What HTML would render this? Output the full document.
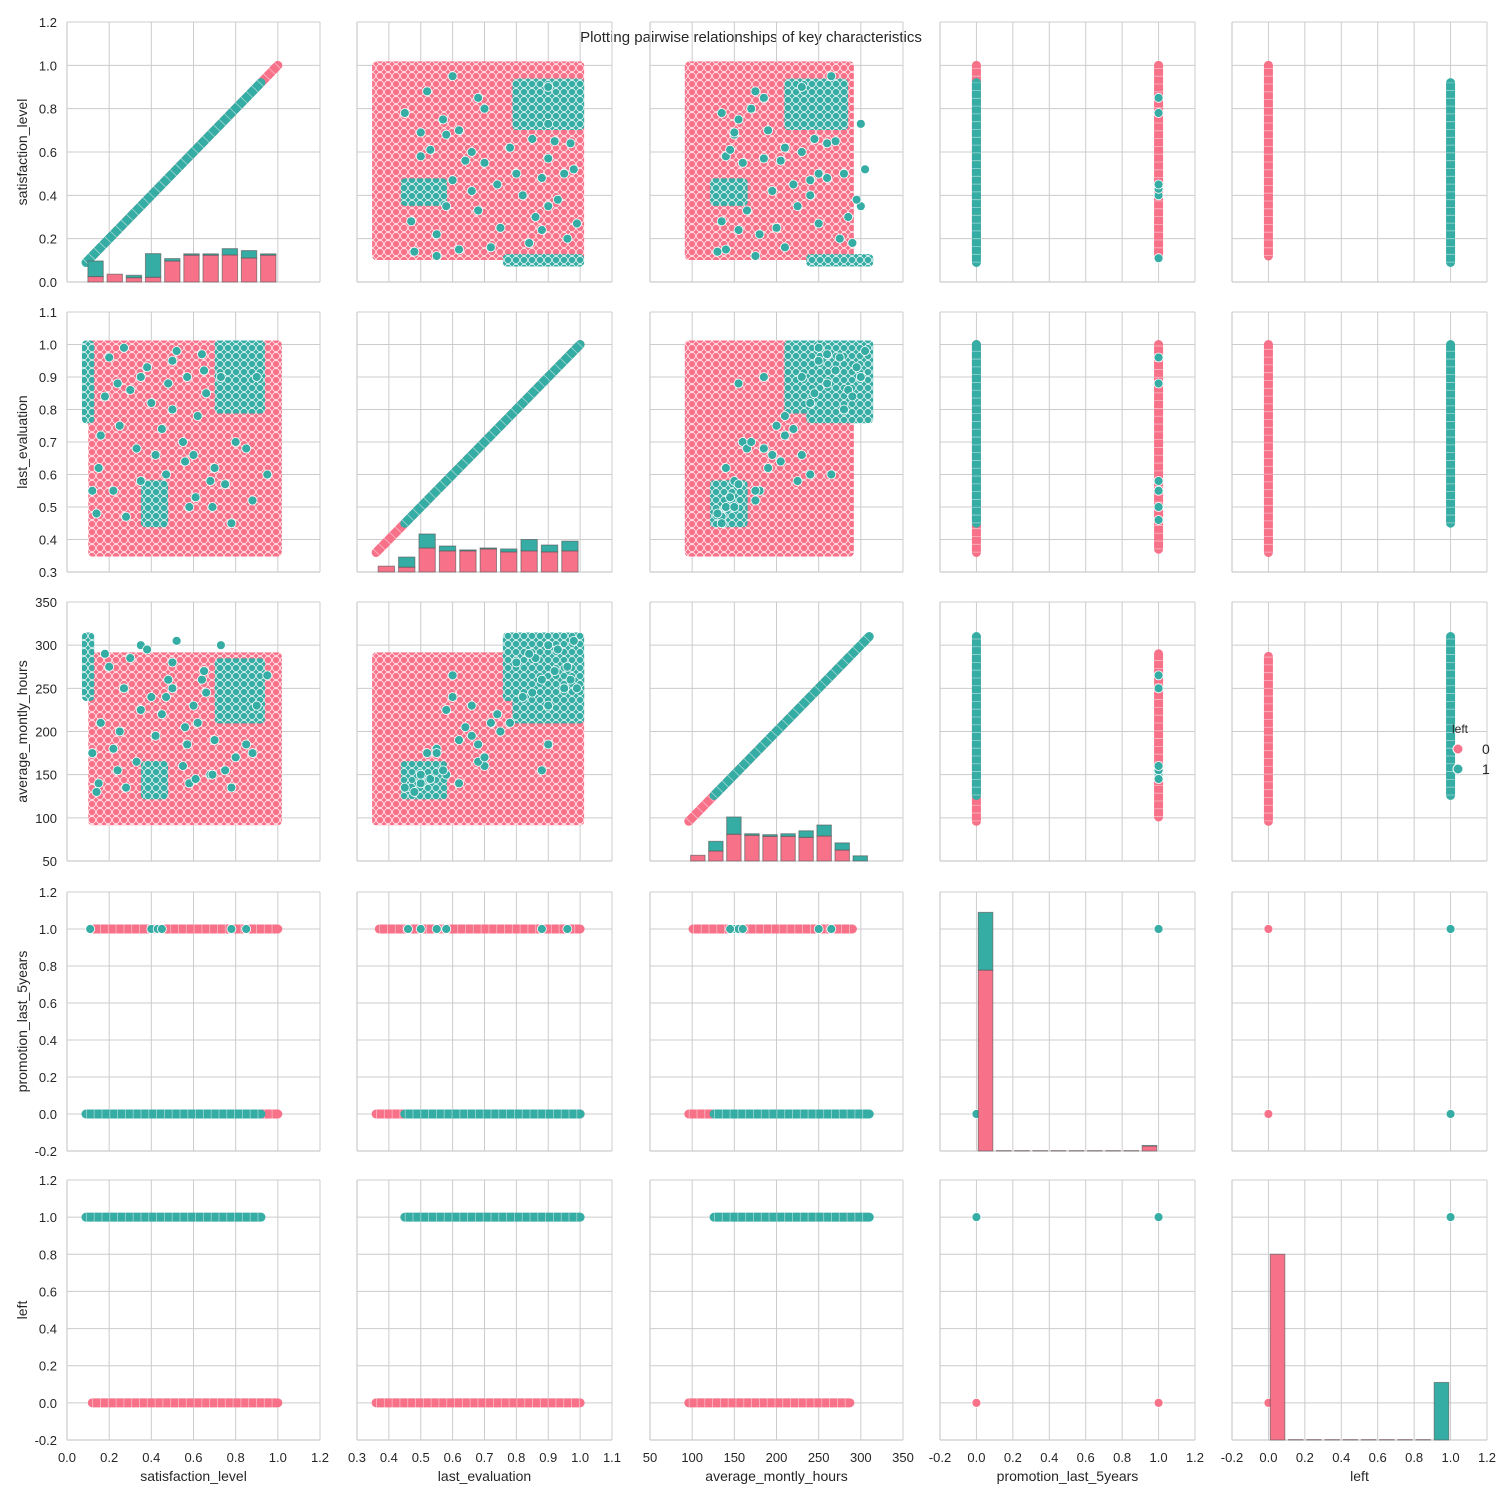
<!DOCTYPE html>
<html><head><meta charset="utf-8"><style>
body{margin:0;background:#fff}
svg text{font-family:"Liberation Sans",Arial,sans-serif;fill:#262626}
</style></head><body>
<svg id="chart" xmlns="http://www.w3.org/2000/svg" width="1502" height="1500" viewBox="0 0 1502 1500">
<defs>
<pattern id="pk" width="8" height="8" patternUnits="userSpaceOnUse"><rect width="8" height="8" fill="#f77189"/><circle cx="4" cy="4" r="3.6" fill="#f77189" stroke="#fff" stroke-width="0.7"/></pattern>
<pattern id="tl" width="8" height="8" patternUnits="userSpaceOnUse"><rect width="8" height="8" fill="#36ada4"/><circle cx="4" cy="4" r="3.6" fill="#36ada4" stroke="#fff" stroke-width="0.7"/></pattern>
</defs>
<text x="751" y="42" text-anchor="middle" font-size="15">Plotting pairwise relationships of key characteristics</text>
<g id="legend">
<text x="1452" y="733" font-size="12">left</text>
<circle cx="1458" cy="749" r="5" fill="#f77189" stroke="#fff"/>
<text x="1482" y="754" font-size="14">0</text>
<circle cx="1458" cy="769" r="5" fill="#36ada4" stroke="#fff"/>
<text x="1482" y="774" font-size="14">1</text>
</g>
</svg>
<script>
// ---- data ----
const varNames = ['satisfaction_level','last_evaluation','average_montly_hours','promotion_last_5years','left'];
const axisMin = [0, 0.3, 50, -0.2, -0.2];
const axisMax = [1.2, 1.1, 350, 1.2, 1.2];
const tickStep = [0.2, 0.1, 50, 0.2, 0.2];
const tickDec = [1, 1, 0, 1, 1];
const binMin = [0.09, 0.36, 96, 0, 0];
const binMax = [1.0, 1.0, 310, 1, 1];
const histPink0 = [0.025,0.036,0.020,0.022,0.097,0.124,0.124,0.125,0.111,0.124];
const histTotal0 = [0.097,0.036,0.031,0.131,0.108,0.130,0.130,0.154,0.145,0.130];
const histPink1 = [0.318,0.315,0.374,0.365,0.365,0.371,0.362,0.365,0.362,0.365];
const histTotal1 = [0.318,0.346,0.417,0.380,0.368,0.374,0.371,0.400,0.383,0.395];
const histPink2 = [56.6,61.6,81,79.8,78.6,78.6,77.4,79,62.7,50];
const histTotal2 = [56.6,72.8,101,81.6,80.5,81.6,85,91.7,71,56];
const histPink3 = [0.778,-0.198,-0.198,-0.198,-0.198,-0.198,-0.198,-0.198,-0.198,-0.173];
const histTotal3 = [1.09,-0.198,-0.198,-0.198,-0.198,-0.198,-0.198,-0.198,-0.198,-0.170];
const histPink4 = [0.80,-0.198,-0.198,-0.198,-0.198,-0.198,-0.198,-0.198,-0.198,-0.2];
const histTotal4 = [0.80,-0.198,-0.198,-0.198,-0.198,-0.198,-0.198,-0.198,-0.198,0.11];
const stayerLo = [0.12, 0.36, 96];
const stayerHi = [1.0, 1.0, 287];
const leaverLo = [0.09, 0.45, 126];
const leaverHi = [0.92, 1.0, 310];
const promoStayerLo = [0.12, 0.37, 101];
const promoStayerHi = [1.0, 1.0, 290];
const clusterA = [0.09,0.11,0.77,1.0,240,310];
const clusterB = [0.37,0.46,0.45,0.57,126,161];
const clusterC = [0.72,0.92,0.80,1.0,214,280];
const leaverSat =   [0.15,0.22,0.3,0.35,0.5,0.55,0.6,0.65,0.68,0.25,0.33,0.48,0.58,0.7,0.2,0.4,0.62,0.52,0.28,0.45,0.75,0.85,0.12,0.95,0.38,0.66,0.8,0.18,0.9,0.56,0.14,0.27,0.42,0.61,0.73,0.88,0.5,0.35,0.64,0.24,0.78,0.47,0.16,0.57,0.69];
const leaverEval =  [0.62,0.55,0.86,0.9,0.95,0.7,0.66,0.92,0.58,0.75,0.68,0.88,0.5,0.62,0.96,0.82,0.78,0.98,0.47,0.74,0.57,0.68,0.55,0.6,0.93,0.85,0.7,0.84,0.9,0.64,0.48,0.99,0.66,0.53,0.9,0.52,0.8,0.58,0.97,0.88,0.45,0.6,0.72,0.9,0.5];
const leaverHours = [140,180,285,300,250,160,230,270,150,200,165,260,140,190,275,240,210,305,135,220,155,185,175,265,295,245,170,290,230,205,130,250,195,145,300,175,280,225,260,155,135,240,210,185,150];
const promoLeaverSat = [0.11,0.40,0.43,0.45,0.78,0.85];
const promoLeaverEval = [0.96,0.50,0.55,0.46,0.88,0.58];
const promoLeaverHours = [265,150,155,145,250,160];

const histPink = [histPink0,histPink1,histPink2,histPink3,histPink4];
const histTotal = [histTotal0,histTotal1,histTotal2,histTotal3,histTotal4];
// ---- layout ----
const colX = [[67,320],[357,612],[650,903],[940,1195],[1232,1487]];
const rowY = [[22,282],[312,572],[602,861],[892,1151],[1180,1440]];
const PINK='#f77189', TEAL='#36ada4';
const svg = document.getElementById('chart');
const NS='http://www.w3.org/2000/svg';
function mk(tag, attrs, parent){const e=document.createElementNS(NS,tag);for(const k in attrs)e.setAttribute(k,attrs[k]);(parent||svg).appendChild(e);return e;}
function xs(c,v){return colX[c][0]+(v-axisMin[c])/(axisMax[c]-axisMin[c])*(colX[c][1]-colX[c][0]);}
function ys(r,v){return rowY[r][1]-(v-axisMin[r])/(axisMax[r]-axisMin[r])*(rowY[r][1]-rowY[r][0]);}
function ticks(i){const a=[];const n=Math.round((axisMax[i]-axisMin[i])/tickStep[i]);for(let k=0;k<=n;k++)a.push(axisMin[i]+k*tickStep[i]);return a;}

function rectV(g,r,c,x0,x1,y0,y1,fill,name){
  const X0=xs(c,x0)-4,X1=xs(c,x1)+4,Y0=ys(r,y1)-4,Y1=ys(r,y0)+4;
  const e=mk('rect',{x:X0,y:Y0,width:X1-X0,height:Y1-Y0,rx:4,fill:fill},g);
  
  
}
function pt(g,X,Y,col,name){
  const e=mk('circle',{cx:X,cy:Y,r:4.5,fill:col,stroke:'#fff','stroke-width':0.8},g);
  
  
}
function seg(g,X0,Y0,X1,Y1,col,name){
  const e=mk('line',{x1:X0,y1:Y0,x2:X1,y2:Y1,stroke:col,'stroke-width':9,'stroke-linecap':'round'},g);
  
  
  mk('line',{x1:X0,y1:Y0,x2:X1,y2:Y1,stroke:'#fff','stroke-width':9,'stroke-dasharray':'0.8 7','stroke-opacity':0.5},g);
}
function leaverVal(v,i){return [leaverSat,leaverEval,leaverHours][v][i];}
function promoVal(v,i){return [promoLeaverSat,promoLeaverEval,promoLeaverHours][v][i];}
const clusters=[clusterA,clusterB,clusterC];

for(let r=0;r<5;r++){for(let c=0;c<5;c++){
  const g=mk('g',{});
  
  
  ticks(c).forEach(t=>{mk('line',{x1:xs(c,t),x2:xs(c,t),y1:rowY[r][0],y2:rowY[r][1],stroke:'#cccccc','stroke-width':1},g);});
  ticks(r).forEach(t=>{mk('line',{x1:colX[c][0],x2:colX[c][1],y1:ys(r,t),y2:ys(r,t),stroke:'#cccccc','stroke-width':1},g);});
  mk('line',{x1:colX[c][0],x2:colX[c][0],y1:rowY[r][0],y2:rowY[r][1],stroke:'#cccccc','stroke-width':1.2},g);
  mk('line',{x1:colX[c][0],x2:colX[c][1],y1:rowY[r][1],y2:rowY[r][1],stroke:'#cccccc','stroke-width':1.2},g);
  const cont = r<3 && c<3;
  if(r===c){
    if(r<3){
      seg(g,xs(c,stayerLo[c]),ys(r,stayerLo[r]),xs(c,stayerHi[c]),ys(r,stayerHi[r]),PINK,'diag-stayers');
      seg(g,xs(c,leaverLo[c]),ys(r,leaverLo[r]),xs(c,leaverHi[c]),ys(r,leaverHi[r]),TEAL,'diag-leavers');
    } else if(r===3){ pt(g,xs(c,0),ys(r,0),TEAL,'diag-point'); pt(g,xs(c,1),ys(r,1),TEAL,'diag-point'); }
    else { pt(g,xs(c,0),ys(r,0),PINK,'diag-point'); pt(g,xs(c,1),ys(r,1),TEAL,'diag-point'); }
    const bw=(binMax[c]-binMin[c])/10;
    for(let i=0;i<10;i++){
      const a=binMin[c]+i*bw+bw*0.1, b=a+bw*0.8;
      const base=ys(r,axisMin[r]);
      const yp=ys(r,histPink[r][i]), yt=ys(r,histTotal[r][i]);
      const p=mk('rect',{x:xs(c,a),y:yp,width:xs(c,b)-xs(c,a),height:Math.max(0,base-yp),fill:PINK,stroke:'#555','stroke-opacity':0.6,'stroke-width':1},g);
      
      
      if(yt<yp-0.5){
        const t=mk('rect',{x:xs(c,a),y:yt,width:xs(c,b)-xs(c,a),height:yp-yt,fill:TEAL,stroke:'#555','stroke-opacity':0.6,'stroke-width':1},g);
        
        
      }
    }
  } else if(cont){
    rectV(g,r,c,stayerLo[c],stayerHi[c],stayerLo[r],stayerHi[r],'url(#pk)','stayer-cloud');
    clusters.forEach(k=>{rectV(g,r,c,k[2*c],k[2*c+1],k[2*r],k[2*r+1],'url(#tl)','leaver-cluster');});
    for(let i=0;i<leaverSat.length;i++) pt(g,xs(c,leaverVal(c,i)),ys(r,leaverVal(r,i)),TEAL,'leaver-point');
  } else if(c>=3 && r<3){
    if(c===4){
      seg(g,xs(c,0),ys(r,stayerLo[r]),xs(c,0),ys(r,stayerHi[r]),PINK,'strip-left-0');
      seg(g,xs(c,1),ys(r,leaverLo[r]),xs(c,1),ys(r,leaverHi[r]),TEAL,'strip-left-1');
    } else {
      seg(g,xs(c,0),ys(r,stayerLo[r]),xs(c,0),ys(r,stayerHi[r]),PINK,'strip-promo-0-stayers');
      seg(g,xs(c,0),ys(r,leaverLo[r]),xs(c,0),ys(r,leaverHi[r]),TEAL,'strip-promo-0-leavers');
      seg(g,xs(c,1),ys(r,promoStayerLo[r]),xs(c,1),ys(r,promoStayerHi[r]),PINK,'strip-promo-1-stayers');
      for(let i=0;i<promoLeaverSat.length;i++) pt(g,xs(c,1),ys(r,promoVal(r,i)),TEAL,'promo-leaver-point');
    }
  } else if(r>=3 && c<3){
    if(r===4){
      seg(g,xs(c,stayerLo[c]),ys(r,0),xs(c,stayerHi[c]),ys(r,0),PINK,'strip-left-0');
      seg(g,xs(c,leaverLo[c]),ys(r,1),xs(c,leaverHi[c]),ys(r,1),TEAL,'strip-left-1');
    } else {
      seg(g,xs(c,stayerLo[c]),ys(r,0),xs(c,stayerHi[c]),ys(r,0),PINK,'strip-promo-0-stayers');
      seg(g,xs(c,leaverLo[c]),ys(r,0),xs(c,leaverHi[c]),ys(r,0),TEAL,'strip-promo-0-leavers');
      seg(g,xs(c,promoStayerLo[c]),ys(r,1),xs(c,promoStayerHi[c]),ys(r,1),PINK,'strip-promo-1-stayers');
      for(let i=0;i<promoLeaverSat.length;i++) pt(g,xs(c,promoVal(c,i)),ys(r,1),TEAL,'promo-leaver-point');
    }
  } else {
    if(r===3){ pt(g,xs(c,0),ys(r,1),PINK,'point'); pt(g,xs(c,0),ys(r,0),PINK,'point'); pt(g,xs(c,1),ys(r,1),TEAL,'point'); pt(g,xs(c,1),ys(r,0),TEAL,'point'); }
    else { pt(g,xs(c,0),ys(r,1),TEAL,'point'); pt(g,xs(c,1),ys(r,1),TEAL,'point'); pt(g,xs(c,0),ys(r,0),PINK,'point'); pt(g,xs(c,1),ys(r,0),PINK,'point'); }
  }
}}
for(let c=0;c<5;c++){
  ticks(c).forEach(t=>{
    const e=mk('text',{x:xs(c,t),y:1462,'text-anchor':'middle','font-size':13});
    e.textContent=t.toFixed(tickDec[c]);
    
    
  });
  const l=mk('text',{x:(colX[c][0]+colX[c][1])/2,y:1481,'text-anchor':'middle','font-size':14});
  l.textContent=varNames[c];
  
  
}
for(let r=0;r<5;r++){
  ticks(r).forEach(t=>{
    const e=mk('text',{x:57,y:ys(r,t)+5,'text-anchor':'end','font-size':13});
    e.textContent=t.toFixed(tickDec[r]);
    
    
  });
  const cy=(rowY[r][0]+rowY[r][1])/2;
  const l=mk('text',{x:0,y:0,'text-anchor':'middle','font-size':14,transform:'translate(27,'+cy+') rotate(-90)'});
  l.textContent=varNames[r];
  
  
}
svg.appendChild(document.getElementById('legend'));
</script>
</body></html>
